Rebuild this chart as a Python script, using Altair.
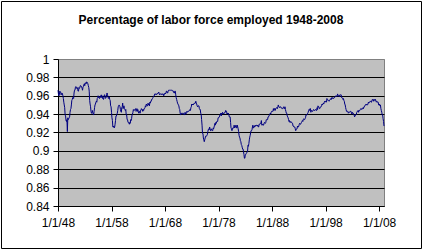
import altair as alt
import pandas as pd

TITLE = "Percentage of labor force employed 1948-2008"
FONT = "Liberation Sans, Arial, sans-serif"

first_year = 1948
last_year = 2008

# Monthly share of the labor force employed, one line per year (Jan..Dec)
employed = [
    .966, .962, .960, .961, .965, .964, .964, .961, .962, .963, .962, .960,  # 1948
    .957, .953, .950, .947, .939, .938, .933, .932, .934, .921, .936, .934,  # 1949
    .935, .936, .937, .942, .945, .946, .950, .955, .956, .958, .958, .957,  # 1950
    .963, .966, .966, .969, .970, .968, .969, .969, .967, .965, .965, .969,  # 1951
    .968, .969, .971, .971, .970, .970, .968, .966, .969, .970, .972, .973,  # 1952
    .971, .974, .974, .973, .975, .975, .974, .973, .971, .969, .965, .955,  # 1953
    .951, .948, .943, .941, .941, .944, .942, .940, .939, .943, .947, .950,  # 1954
    .951, .953, .954, .953, .957, .958, .960, .958, .959, .957, .958, .958,  # 1955
    .960, .961, .958, .960, .957, .957, .956, .959, .961, .961, .957, .958,  # 1956
    .958, .961, .963, .961, .959, .957, .958, .959, .956, .955, .949, .948,  # 1957
    .942, .936, .933, .926, .926, .927, .925, .926, .929, .933, .938, .938,  # 1958
    .940, .941, .944, .948, .949, .950, .949, .948, .945, .943, .942, .947,  # 1959
    .948, .952, .946, .948, .949, .946, .945, .944, .945, .939, .939, .934,  # 1960
    .934, .931, .931, .930, .929, .931, .930, .934, .933, .935, .939, .940,  # 1961
    .942, .945, .944, .944, .945, .945, .946, .943, .944, .946, .943, .945,  # 1962
    .943, .941, .943, .943, .941, .944, .944, .946, .945, .945, .943, .945,  # 1963
    .944, .946, .946, .947, .949, .948, .951, .950, .949, .949, .952, .950,  # 1964
    .951, .949, .953, .952, .954, .954, .956, .956, .957, .958, .959, .960,  # 1965
    .960, .962, .962, .962, .961, .962, .962, .962, .963, .963, .964, .962,  # 1966
    .961, .962, .962, .962, .962, .961, .962, .962, .962, .960, .961, .962,  # 1967
    .963, .962, .963, .965, .965, .963, .963, .965, .966, .966, .966, .966,  # 1968
    .966, .966, .966, .966, .966, .965, .965, .965, .963, .963, .965, .965,  # 1969
    .961, .958, .956, .954, .952, .951, .950, .949, .946, .945, .941, .939,  # 1970
    .941, .941, .940, .941, .941, .941, .940, .939, .940, .942, .940, .940,  # 1971
    .942, .943, .942, .943, .943, .943, .944, .944, .945, .944, .947, .948,  # 1972
    .951, .950, .951, .950, .951, .951, .952, .952, .952, .954, .952, .951,  # 1973
    .949, .948, .949, .949, .949, .946, .945, .945, .941, .940, .934, .928,  # 1974
    .919, .919, .914, .912, .910, .912, .914, .916, .916, .916, .917, .918,  # 1975
    .921, .923, .924, .923, .926, .924, .922, .922, .924, .923, .922, .922,  # 1976
    .925, .924, .926, .928, .930, .928, .931, .930, .932, .932, .932, .936,  # 1977
    .936, .937, .937, .939, .940, .941, .938, .941, .940, .942, .941, .940,  # 1978
    .941, .941, .942, .942, .944, .943, .943, .940, .941, .940, .941, .940,  # 1979
    .937, .937, .937, .931, .925, .924, .922, .923, .925, .925, .925, .928,  # 1980
    .925, .926, .926, .928, .925, .925, .928, .926, .924, .921, .917, .915,  # 1981
    .914, .911, .910, .907, .906, .904, .902, .902, .899, .896, .892, .892,  # 1982
    .896, .896, .897, .898, .899, .899, .906, .905, .908, .912, .915, .917,  # 1983
    .920, .922, .922, .923, .926, .928, .925, .925, .927, .926, .928, .927,  # 1984
    .927, .928, .928, .927, .928, .926, .926, .929, .929, .929, .930, .930,  # 1985
    .933, .928, .928, .929, .928, .928, .930, .931, .930, .930, .931, .934,  # 1986
    .934, .934, .934, .937, .937, .938, .939, .940, .941, .940, .942, .943,  # 1987
    .943, .943, .943, .946, .944, .946, .946, .944, .946, .946, .947, .947,  # 1988
    .946, .948, .950, .948, .948, .947, .948, .948, .947, .947, .946, .946,  # 1989
    .946, .947, .948, .946, .946, .948, .945, .943, .941, .941, .938, .937,  # 1990
    .936, .934, .932, .933, .931, .931, .932, .931, .931, .930, .930, .927,  # 1991
    .927, .926, .926, .926, .924, .922, .923, .924, .924, .927, .926, .926,  # 1992
    .927, .929, .930, .929, .929, .930, .931, .932, .933, .932, .934, .935,  # 1993
    .934, .934, .935, .936, .939, .939, .939, .940, .941, .942, .944, .945,  # 1994
    .944, .946, .946, .942, .944, .944, .943, .943, .944, .945, .944, .944,  # 1995
    .944, .945, .945, .944, .944, .947, .945, .949, .948, .948, .946, .946,  # 1996
    .947, .948, .948, .949, .951, .950, .951, .952, .951, .953, .954, .953,  # 1997
    .954, .954, .953, .957, .956, .955, .955, .955, .954, .955, .956, .956,  # 1998
    .957, .956, .958, .957, .958, .957, .957, .958, .958, .959, .959, .960,  # 1999
    .960, .959, .960, .962, .960, .960, .960, .959, .961, .961, .961, .961,  # 2000
    .958, .958, .957, .956, .957, .955, .954, .951, .950, .947, .945, .943,  # 2001
    .943, .943, .943, .941, .942, .942, .942, .943, .943, .943, .941, .940,  # 2002
    .942, .941, .941, .940, .939, .937, .938, .939, .939, .940, .942, .943,  # 2003
    .943, .944, .942, .944, .944, .944, .945, .946, .946, .945, .946, .946,  # 2004
    .947, .946, .948, .948, .949, .950, .950, .951, .950, .950, .950, .951,  # 2005
    .953, .952, .953, .953, .954, .954, .953, .953, .955, .956, .955, .956,  # 2006
    .954, .955, .956, .955, .956, .954, .953, .954, .953, .953, .953, .950,  # 2007
    .950, .951, .949, .950, .946, .944, .942, .939, .939, .935, .932, .927,  # 2008
]

x_tick_years = [1948, 1958, 1968, 1978, 1988, 1998, 2008]
x_tick_labels = ["1/1/48", "1/1/58", "1/1/68", "1/1/78", "1/1/88", "1/1/98", "1/1/08"]
y_ticks = [0.84, 0.86, 0.88, 0.90, 0.92, 0.94, 0.96, 0.98, 1.0]

rows = []
i = 0
for yr in range(first_year, last_year + 1):
    for m in range(12):
        rows.append({"t": yr + m / 12.0, "v": employed[i]})
        i += 1
df = pd.DataFrame(rows)

label_expr = "[" + ",".join("'%s'" % s for s in x_tick_labels) + "][indexof([" + \
    ",".join(str(v) for v in x_tick_years) + "], datum.value)]"

W, H = 326, 147
PL, PT = 58, 59

line = alt.Chart(df).mark_line(color="#000080", strokeWidth=1, interpolate="linear").encode(
    x=alt.X("t:Q",
            scale=alt.Scale(domain=[first_year, last_year + 11 / 12.0], nice=False, zero=False),
            axis=alt.Axis(values=x_tick_years, labelExpr=label_expr, title=None, grid=False,
                          tickSize=5, tickColor="black", domainColor="black",
                          labelFont=FONT, labelFontSize=12, labelColor="black",
                          labelPadding=6, labelOverlap=False, labelFlush=False)),
    y=alt.Y("v:Q",
            scale=alt.Scale(domain=[0.84, 1.0], nice=False, zero=False),
            axis=alt.Axis(values=y_ticks, format=".2~f", title=None, grid=True,
                          gridColor=alt.condition("datum.value >= 1", alt.value("#808080"), alt.value("black")),
                          gridWidth=1, gridOpacity=1,
                          tickSize=5, tickColor="black", domainColor="black",
                          labelFont=FONT, labelFontSize=12, labelColor="black",
                          labelPadding=4, labelOverlap=False, labelFlush=False)),
)

frame = alt.Chart(alt.Data(values=[{"a": 1}])).mark_rect(
    fill=None, stroke="black", strokeWidth=1
).encode(
    x=alt.value(-PL + 1.5), x2=alt.value(421.5 - PL),
    y=alt.value(-PT + 1.5), y2=alt.value(248.5 - PT),
)

title = alt.Chart(alt.Data(values=[{"title": TITLE}])).mark_text(
    font=FONT, fontSize=12, fontWeight="bold", color="black",
    align="center", baseline="alphabetic"
).encode(
    text="title:N",
    x=alt.value(211 - PL), y=alt.value(24 - PT),
)

chart = alt.layer(frame, line, title).properties(
    width=W, height=H,
    autosize=alt.AutoSizeParams(type="none"),
    padding={"left": PL, "top": PT, "right": 424 - PL - W, "bottom": 250 - PT - H},
    background="white",
).configure_view(
    fill="#C0C0C0", stroke="#808080", strokeWidth=1
)

chart.save("out.html", embed_options={"renderer": "svg", "actions": False})
